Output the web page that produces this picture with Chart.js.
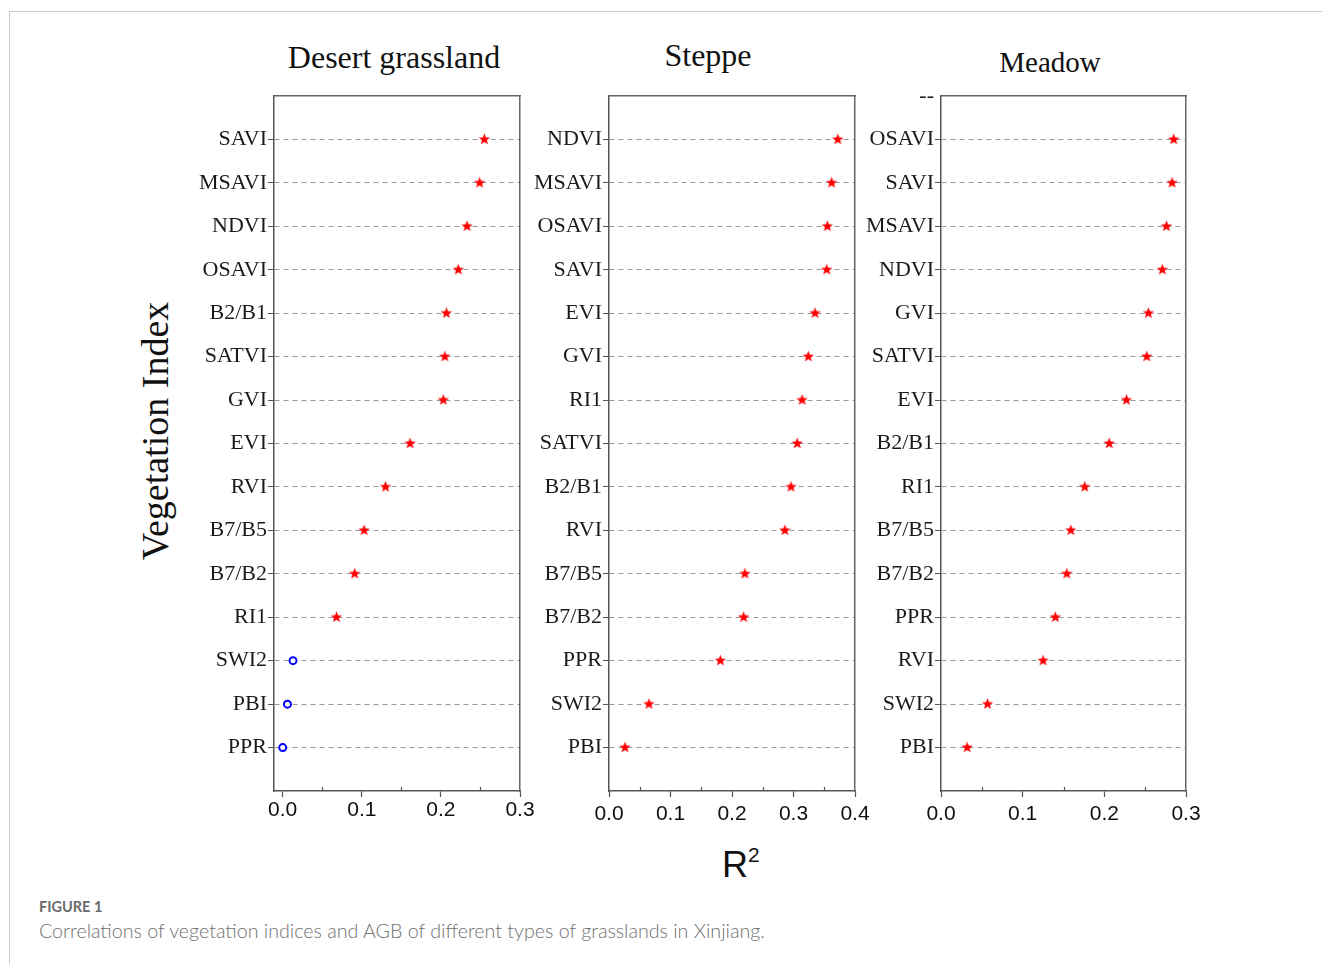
<!DOCTYPE html>
<html>
<head>
<meta charset="utf-8">
<script src="https://cdn.jsdelivr.net/npm/chart.js@4"></script>
<style>
  body { margin: 0; background: #fff; width: 1322px; height: 964px; position: relative; overflow: hidden; }
  .frame { position: absolute; left: 9px; top: 11px; width: 1330px; height: 970px; border-left: 1.5px solid #ccc; border-top: 1.5px solid #ccc; }
  .panel { position: absolute; }
  .title { position: absolute; font-family: "Liberation Serif", serif; font-size: 32px; color: #111; transform: translate(-50%, -50%); white-space: nowrap; }
  .ylab { position: absolute; left: 155px; top: 431px; font-family: "Liberation Serif", serif; font-size: 38px; color: #111; transform: translate(-50%, -50%) rotate(-90deg); white-space: nowrap; }
  .xlab { position: absolute; left: 722px; top: 844px; font-family: "Liberation Sans", sans-serif; font-size: 36px; color: #111; }
  .xlab sup { font-size: 21px; position: relative; top: -2px; }
  .fig { position: absolute; left: 39px; top: 898px; font-family: Lato, sans-serif; font-size: 14.5px; font-weight: bold; color: #6b6b6b; }
  .cap { position: absolute; left: 39px; top: 919px; font-family: Lato, sans-serif; font-size: 19.65px; font-weight: 300; color: #707070; white-space: nowrap; }
</style>
</head>
<body>
<div class="frame"></div>
<div class="title" style="left:394px;top:57px">Desert grassland</div>
<div class="title" style="left:708px;top:55px">Steppe</div>
<div class="title" style="left:1050px;top:62px;font-size:29px">Meadow</div>
<div class="ylab">Vegetation Index</div>
<div class="xlab">R<sup>2</sup></div>
<div class="fig">FIGURE 1</div>
<div class="cap">Correlations of vegetation indices and AGB of different types of grasslands in Xinjiang.</div>

<div class="panel" id="p1"><canvas id="c1"></canvas></div>
<div class="panel" id="p2"><canvas id="c2"></canvas></div>
<div class="panel" id="p3"><canvas id="c3"></canvas></div>

<script>
// ---- data (top to bottom) ----
const desertLabels = ['SAVI', 'MSAVI', 'NDVI', 'OSAVI', 'B2/B1', 'SATVI', 'GVI', 'EVI', 'RVI', 'B7/B5', 'B7/B2', 'RI1', 'SWI2', 'PBI', 'PPR'];
const desertR2 = [0.255, 0.249, 0.233, 0.222, 0.207, 0.205, 0.203, 0.161, 0.130, 0.103, 0.091, 0.068, 0.013, 0.006, 0.000];
const desertSignificant = [true, true, true, true, true, true, true, true, true, true, true, true, false, false, false];

const steppeLabels = ['NDVI', 'MSAVI', 'OSAVI', 'SAVI', 'EVI', 'GVI', 'RI1', 'SATVI', 'B2/B1', 'RVI', 'B7/B5', 'B7/B2', 'PPR', 'SWI2', 'PBI'];
const steppeR2 = [0.372, 0.362, 0.355, 0.354, 0.335, 0.324, 0.314, 0.306, 0.296, 0.286, 0.221, 0.219, 0.181, 0.065, 0.026];
const steppeSignificant = steppeR2.map(() => true);

const meadowLabels = ['OSAVI', 'SAVI', 'MSAVI', 'NDVI', 'GVI', 'SATVI', 'EVI', 'B2/B1', 'RI1', 'B7/B5', 'B7/B2', 'PPR', 'RVI', 'SWI2', 'PBI'];
const meadowR2 = [0.285, 0.283, 0.276, 0.271, 0.254, 0.252, 0.227, 0.206, 0.176, 0.159, 0.154, 0.140, 0.125, 0.057, 0.032];
const meadowSignificant = meadowR2.map(() => true);

const desertXTicks = [0.0, 0.1, 0.2, 0.3];
const steppeXTicks = [0.0, 0.1, 0.2, 0.3, 0.4];
const meadowXTicks = [0.0, 0.1, 0.2, 0.3];

// ---- marker: filled red star ----
function makeStar(size, color) {
  const c = document.createElement('canvas');
  c.width = size; c.height = size;
  const g = c.getContext('2d');
  const cx = size / 2, cy = size / 2, ro = size / 2 - 0.5, ri = ro * 0.42;
  g.beginPath();
  for (let i = 0; i < 10; i++) {
    const r = i % 2 ? ri : ro;
    const a = -Math.PI / 2 + i * Math.PI / 5;
    g.lineTo(cx + r * Math.cos(a), cy + r * Math.sin(a));
  }
  g.closePath();
  g.fillStyle = color;
  g.fill();
  return c;
}
const star = makeStar(13, '#ff0000');

const YW = 120, RW = 30, TH = 20, XH = 60;
const TOP = 96, BOTTOM = 791;

// inward minor ticks on x axis
const minorTicks = {
  id: 'minorTicks',
  afterDraw(chart) {
    const { ctx, chartArea: a, scales } = chart;
    const x = scales.x;
    ctx.save();
    ctx.strokeStyle = '#555';
    ctx.lineWidth = 1.2;
    for (let v = 0.05; v < x.max; v += 0.1) {
      const px = Math.round(x.getPixelForValue(v)) + 0.5;
      ctx.beginPath();
      ctx.moveTo(px, a.bottom);
      ctx.lineTo(px, a.bottom - 4);
      ctx.stroke();
    }
    ctx.restore();
  }
};

function makePanel(id, boxId, left, right, xmin, xmax, labels, values, sig, xTicks, topLabel, labelPad) {
  const w = YW + (right - left) + RW;
  const h = TH + (BOTTOM - TOP) + XH;
  const box = document.getElementById(boxId);
  box.style.left = (left - YW) + 'px';
  box.style.top = (TOP - TH) + 'px';
  box.style.width = w + 'px';
  box.style.height = h + 'px';

  const n = labels.length;
  const pts = values.map((v, i) => ({ x: v, y: i }));
  const inRange = v => v >= 0 && v < n;

  new Chart(document.getElementById(id), {
    type: 'scatter',
    data: {
      datasets: [{
        data: pts,
        pointStyle: ctx => sig[ctx.dataIndex] ? star : 'circle',
        pointRadius: 3.5,
        borderWidth: 2,
        borderColor: ctx => sig[ctx.dataIndex] ? '#ff0000' : '#0000ff',
        backgroundColor: ctx => sig[ctx.dataIndex] ? '#ff0000' : '#ffffff'
      }]
    },
    options: {
      responsive: true,
      maintainAspectRatio: false,
      animation: false,
      events: [],
      layout: { padding: 0 },
      plugins: { legend: { display: false }, tooltip: { enabled: false } },
      scales: {
        x: {
          type: 'linear',
          position: 'bottom',
          min: xmin, max: xmax,
          afterBuildTicks: s => { s.ticks = xTicks.map(v => ({ value: v })); },
          afterFit: s => { s.height = XH; },
          ticks: {
            color: '#111',
            font: { family: 'Liberation Sans', size: 21 },
            padding: labelPad,
            maxRotation: 0,
            callback: v => Number(v).toFixed(1)
          },
          grid: { drawOnChartArea: false, tickLength: 6, tickColor: '#555', tickWidth: 1.2 },
          border: { color: '#555', width: 1.5 }
        },
        xTop: {
          type: 'linear', position: 'top',
          afterFit: s => { s.height = TH; },
          ticks: { display: false },
          grid: { display: false },
          border: { color: '#666', width: 1.5 }
        },
        y: {
          type: 'linear',
          position: 'left',
          reverse: true,
          min: -1, max: n,
          afterBuildTicks: s => { s.ticks = []; for (let i = -1; i <= n; i++) s.ticks.push({ value: i }); },
          afterFit: s => { s.width = YW; },
          ticks: {
            color: '#1a1a1a',
            font: { family: 'Liberation Serif', size: 22 },
            padding: 1,
            autoSkip: false,
            callback: v => inRange(v) ? labels[v] : (v === -1 ? topLabel : '')
          },
          grid: {
            color: c => inRange(c.tick.value) ? '#9a9a9a' : 'rgba(0,0,0,0)',
            lineWidth: 1,
            tickLength: 6,
            tickColor: c => inRange(c.tick.value) ? '#555' : 'rgba(0,0,0,0)',
            tickBorderDash: []
          },
          border: { color: '#555', width: 1.5, dash: [5, 4] }
        },
        yRight: {
          type: 'linear', position: 'right',
          afterFit: s => { s.width = RW; },
          ticks: { display: false },
          grid: { display: false },
          border: { color: '#666', width: 1.5 }
        }
      }
    },
    plugins: [minorTicks]
  });
}

makePanel('c1', 'p1', 274, 520, -0.011, 0.3, desertLabels, desertR2, desertSignificant, desertXTicks, '', 1);
makePanel('c2', 'p2', 609, 855, 0, 0.4, steppeLabels, steppeR2, steppeSignificant, steppeXTicks, '', 5);
makePanel('c3', 'p3', 941, 1186, 0, 0.3, meadowLabels, meadowR2, meadowSignificant, meadowXTicks, '--', 5);
</script>
</body>
</html>
